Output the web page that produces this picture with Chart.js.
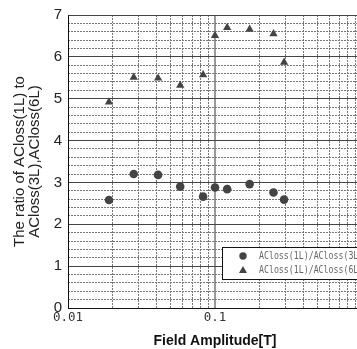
<!DOCTYPE html>
<html>
<head>
<meta charset="utf-8">
<script src="https://cdn.jsdelivr.net/npm/chart.js@4"></script>
<style>
  html, body { margin: 0; padding: 0; background: #fff; overflow: hidden; }
  #wrap { width: 380px; height: 349px; }
</style>
</head>
<body>
<div id="wrap"><canvas id="chart" width="380" height="349"></canvas></div>
<script>
// data
var fieldAmplitude = [0.019, 0.028, 0.041, 0.058, 0.083, 0.1, 0.121, 0.172, 0.25, 0.295];
var ratio3L = [2.58, 3.2, 3.18, 2.9, 2.66, 2.88, 2.84, 2.96, 2.76, 2.59];
var ratio6L = [4.92, 5.51, 5.49, 5.32, 5.57, 6.51, 6.70, 6.66, 6.55, 5.87];
var seriesNames = ['ACloss(1L)/ACloss(3L)', 'ACloss(1L)/ACloss(6L)'];

var xMajorTicks = [0.01, 0.1, 1];
var xTickLabels = ['0.01', '0.1', '1'];
var xMinorTicks = [0.02, 0.03, 0.04, 0.05, 0.06, 0.07, 0.08, 0.09, 0.2, 0.3, 0.4, 0.5, 0.6, 0.7, 0.8, 0.9];
var yMinorTicks = [];
for (var i = 0; i < 35; i++) {
    if (i % 5 !== 0) yMinorTicks.push(i / 5);
}

function toPoints(xs, ys) {
    return xs.map(function (x, i) { return { x: x, y: ys[i] }; });
}

// legend box drawn inside the plot, like the original
var innerLegend = {
    id: 'innerLegend',
    afterDraw: function (chart) {
        var ctx = chart.ctx;
        var area = chart.chartArea;
        var left = area.left + 154, top = area.top + 232;
        ctx.save();
        ctx.fillStyle = '#fff';
        ctx.fillRect(left, top, 200, 32);
        ctx.strokeStyle = '#111';
        ctx.lineWidth = 1;
        ctx.strokeRect(left + 0.5, top + 0.5, 200, 32);
        chart.data.datasets.forEach(function (ds, i) {
            var cy = top + 9 + i * 14;
            ctx.fillStyle = ds.backgroundColor;
            ctx.beginPath();
            if (ds.pointStyle === 'triangle') {
                ctx.moveTo(left + 21, cy - 4);
                ctx.lineTo(left + 25, cy + 3);
                ctx.lineTo(left + 17, cy + 3);
                ctx.closePath();
            } else {
                ctx.arc(left + 21, cy, 3.7, 0, Math.PI * 2);
            }
            ctx.fill();
            ctx.fillStyle = '#666';
            ctx.font = '11px "DejaVu Sans Mono", monospace';
            ctx.textBaseline = 'middle';
            ctx.translate(left + 37, cy);
            ctx.scale(0.75, 1);
            ctx.fillText(ds.label, 0, 0);
            ctx.setTransform(1, 0, 0, 1, 0, 0);
        });
        ctx.restore();
    }
};

var canvas = document.getElementById('chart');
var chart = new Chart(canvas, {
    type: 'scatter',
    data: {
        datasets: [{
            label: seriesNames[0],
            data: toPoints(fieldAmplitude, ratio3L),
            pointStyle: 'circle',
            pointRadius: 4.3,
            backgroundColor: '#444',
            borderWidth: 0,
            xAxisID: 'x',
            yAxisID: 'y'
        }, {
            label: seriesNames[1],
            data: toPoints(fieldAmplitude, ratio6L),
            pointStyle: 'triangle',
            pointRadius: 4.8,
            backgroundColor: '#444',
            borderWidth: 0,
            xAxisID: 'x',
            yAxisID: 'y'
        }]
    },
    options: {
        responsive: false,
        animation: false,
        layout: { padding: { left: 0, top: 15, right: 18, bottom: 0 } },
        plugins: {
            legend: { display: false },
            tooltip: { enabled: false }
        },
        scales: {
            x: {
                type: 'logarithmic',
                position: 'bottom',
                min: 0.01,
                max: 1,
                afterBuildTicks: function (scale) {
                    scale.ticks = xMajorTicks.map(function (v) { return { value: v }; });
                },
                afterFit: function (scale) { scale.height = 41; },
                ticks: {
                    padding: 2,
                    color: '#333',
                    font: { family: '"DejaVu Sans Mono", monospace', size: 12.5 },
                    callback: function (value, index) { return xTickLabels[index]; },
                    maxRotation: 0
                },
                grid: {
                    drawTicks: false,
                    color: function (c) { return c.tick && c.tick.value === 0.1 ? '#999' : 'rgba(0,0,0,0)'; },
                    lineWidth: 2
                },
                border: { display: true, color: '#111', width: 1 },
                title: {
                    display: true,
                    text: 'Field Amplitude[T]',
                    color: '#111',
                    font: { family: '"Liberation Sans", Arial, sans-serif', size: 14, weight: 'bold', lineHeight: '16px' },
                    padding: { top: 0, bottom: 0 }
                }
            },
            x2: {
                type: 'logarithmic',
                position: 'bottom',
                min: 0.01,
                max: 1,
                afterBuildTicks: function (scale) {
                    scale.ticks = xMinorTicks.map(function (v) { return { value: v }; });
                },
                afterFit: function (scale) { scale.height = 0; },
                ticks: { display: false },
                grid: { drawTicks: false, color: '#777', lineWidth: 1 },
                border: { display: false, dash: [2, 1] }
            },
            y: {
                type: 'linear',
                position: 'left',
                min: 0,
                max: 7,
                afterFit: function (scale) { scale.width = 68; },
                ticks: {
                    stepSize: 1,
                    padding: 6,
                    color: '#222',
                    font: { family: '"Liberation Sans Narrow", "Liberation Sans", Arial, sans-serif', size: 15 }
                },
                grid: { drawTicks: false, color: '#444', lineWidth: 1 },
                border: { display: true, color: '#111', width: 1 },
                title: {
                    display: true,
                    text: ['The ratio of ACloss(1L) to', 'ACloss(3L),ACloss(6L)'],
                    color: '#222',
                    font: { family: '"Liberation Sans", Arial, sans-serif', size: 15, lineHeight: '15px' },
                    padding: { top: 12, bottom: 0 }
                }
            },
            y2: {
                type: 'linear',
                position: 'left',
                min: 0,
                max: 7,
                afterBuildTicks: function (scale) {
                    scale.ticks = yMinorTicks.map(function (v) { return { value: v }; });
                },
                afterFit: function (scale) { scale.width = 0; },
                ticks: { display: false },
                grid: { drawTicks: false, color: '#777', lineWidth: 1 },
                border: { display: false, dash: [2, 1] }
            }
        }
    },
    plugins: [innerLegend]
});
</script>
</body>
</html>
